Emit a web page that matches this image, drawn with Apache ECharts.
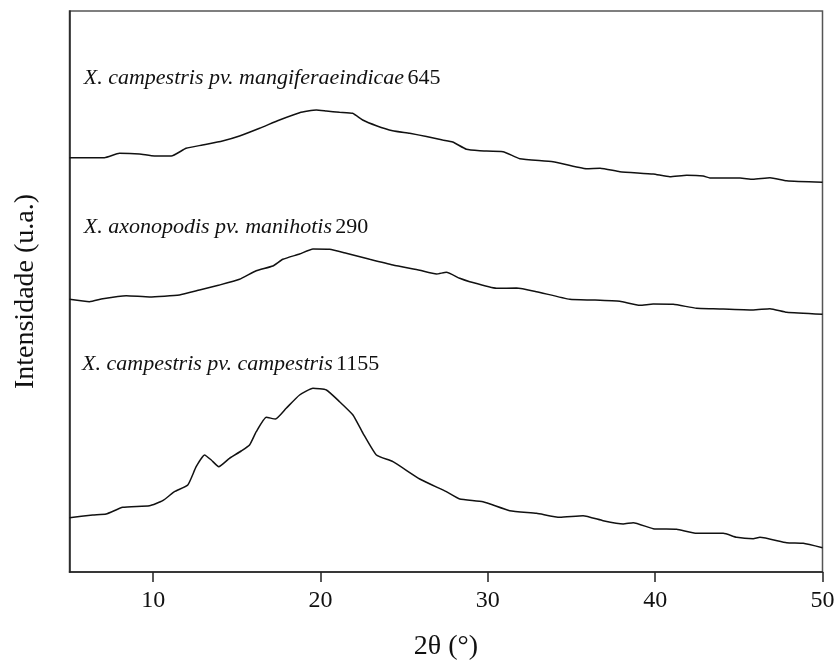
<!DOCTYPE html>
<html>
<head>
<meta charset="utf-8">
<script src="https://cdn.jsdelivr.net/npm/echarts@6/dist/echarts.min.js"></script>
<style>
  html, body { margin: 0; padding: 0; background: #fff; }
  #chart { width: 838px; height: 666px; }
</style>
</head>
<body>
<div id="chart"></div>
<script>
// 2θ (degrees) and intensity (arbitrary units, offset per curve)
const mangiferaeX = [5.0, 7.09, 7.98, 9.18, 10.08, 11.08, 11.97, 12.95, 14.14, 15.16, 16.36, 17.55, 18.75, 19.75, 20.35, 21.14, 21.92, 22.52, 23.34, 24.31, 25.33, 26.33, 27.30, 27.90, 28.72, 29.52, 30.91, 31.91, 33.90, 35.90, 36.71, 37.89, 39.88, 40.88, 41.88, 42.87, 43.27, 45.07, 45.84, 46.86, 47.86, 50.0];
const mangiferaeY = [414.3, 414.3, 418.7, 418, 416, 416, 423.7, 427, 431, 436, 443.7, 452, 459.3, 462, 461, 459.7, 458.7, 452, 446.3, 441.3, 438.7, 435.5, 432, 430, 422.7, 421.3, 420.3, 413.3, 410.3, 403.3, 403.7, 400.3, 398, 395.3, 396.7, 396, 394, 394, 392.7, 394.3, 391.3, 389.7];

const manihotisX = [5.0, 6.19, 6.99, 8.39, 9.78, 11.57, 12.77, 13.96, 15.16, 16.16, 17.15, 17.75, 18.75, 19.55, 20.54, 21.54, 22.94, 24.33, 25.93, 26.93, 27.52, 28.32, 28.92, 30.51, 31.71, 32.91, 34.90, 36.29, 37.89, 39.09, 39.88, 41.08, 42.48, 43.47, 45.86, 46.86, 47.86, 50.0];
const manihotisY = [272.7, 270.3, 273.3, 276.3, 275, 277, 282, 287, 292.7, 301.3, 306, 312.7, 318, 323, 322.7, 318.7, 312.7, 307, 301.7, 298, 299.7, 293.7, 290.3, 283.7, 284, 280.3, 272.7, 272, 270.7, 266.7, 268, 267.7, 263.7, 263.3, 262, 263.3, 259.7, 257.7];

const campestrisX = [5.0, 6.39, 7.19, 8.18, 9.78, 10.57, 11.27, 12.07, 12.57, 13.07, 13.47, 13.92, 14.56, 15.26, 15.76, 16.16, 16.76, 17.31, 17.95, 18.75, 19.55, 20.35, 21.14, 21.94, 22.54, 23.34, 24.33, 25.93, 27.52, 28.32, 29.71, 31.31, 32.91, 34.30, 35.69, 36.89, 38.09, 38.69, 39.88, 41.28, 42.48, 44.07, 44.87, 45.86, 46.26, 47.86, 48.85, 50.0];
const campestrisY = [54.3, 57, 58, 64.7, 66.3, 71.3, 80.3, 87, 105.3, 117, 112, 105.3, 113.7, 121, 127, 140.3, 154.7, 153, 163.7, 177, 183.7, 182, 170.3, 157, 138.7, 117, 110.3, 93, 80.3, 73, 70.3, 61.3, 58.7, 54.7, 56.3, 51.3, 48, 49.3, 43.3, 42.7, 38.7, 38.7, 34.7, 33.3, 34.7, 29.3, 28.7, 24.3];

const seriesNames = ['X. campestris pv. mangiferaeindicae', 'X. axonopodis pv. manihotis', 'X. campestris pv. campestris'];
const strainNumbers = ['645', '290', '1155'];
const labelAnchorX = [5.85, 5.85, 5.75];
const labelAnchorY = [494, 345, 208];

const xTicks = [10, 20, 30, 40, 50];
const xMin = 5, xMax = 50, yMin = 0, yMax = 561;

const xs = [mangiferaeX, manihotisX, campestrisX];
const ys = [mangiferaeY, manihotisY, campestrisY];

const FONT = '"Liberation Serif", "Times New Roman", serif';

const series = xs.map((xArr, k) => ({
  type: 'line',
  name: seriesNames[k],
  data: xArr.map((x, i) => [x, ys[k][i]]),
  showSymbol: false,
  symbol: 'none',
  smooth: 0.15,
  lineStyle: { color: '#111', width: 1.5 },
  silent: true,
  animation: false,
  markPoint: {
    symbol: 'circle',
    symbolSize: 0,
    silent: true,
    animation: false,
    data: [{
      coord: [labelAnchorX[k], labelAnchorY[k]],
      label: {
        show: true,
        position: 'right',
        distance: 0,
        formatter: '{i|' + seriesNames[k] + '} {n|' + strainNumbers[k] + '}',
        rich: {
          i: { fontFamily: FONT, fontStyle: 'italic', fontSize: 22, color: '#111' },
          n: { fontFamily: FONT, fontSize: 22, color: '#111' }
        }
      }
    }]
  }
}));

const chart = echarts.init(document.getElementById('chart'), null, { renderer: 'canvas' });
chart.setOption({
  animation: false,
  backgroundColor: '#fff',
  grid: {
    left: 69.5, right: 15.5, top: 11, bottom: 94,
    show: true, borderColor: '#555', borderWidth: 1.5, backgroundColor: 'transparent'
  },
  xAxis: {
    type: 'value',
    min: xMin, max: xMax,
    name: '2θ (°)',
    nameLocation: 'middle',
    nameGap: 61,
    nameTextStyle: { fontFamily: FONT, fontSize: 28, color: '#111' },
    axisLine: { show: true, onZero: false, lineStyle: { color: '#222', width: 1.5 } },
    axisTick: { show: true, inside: false, length: 10, customValues: xTicks, lineStyle: { color: '#222', width: 1.5 } },
    axisLabel: { show: true, margin: 17, customValues: xTicks, fontFamily: FONT, fontSize: 24, color: '#111' },
    splitLine: { show: false }
  },
  yAxis: {
    type: 'value',
    min: yMin, max: yMax,
    name: 'Intensidade (u.a.)',
    nameLocation: 'middle',
    nameGap: 30,
    nameRotate: 90,
    nameTextStyle: { fontFamily: FONT, fontSize: 28, color: '#111' },
    axisLine: { show: true, onZero: false, lineStyle: { color: '#222', width: 1.5 } },
    axisTick: { show: false },
    axisLabel: { show: false },
    splitLine: { show: false }
  },
  series: series
});
</script>
</body>
</html>
